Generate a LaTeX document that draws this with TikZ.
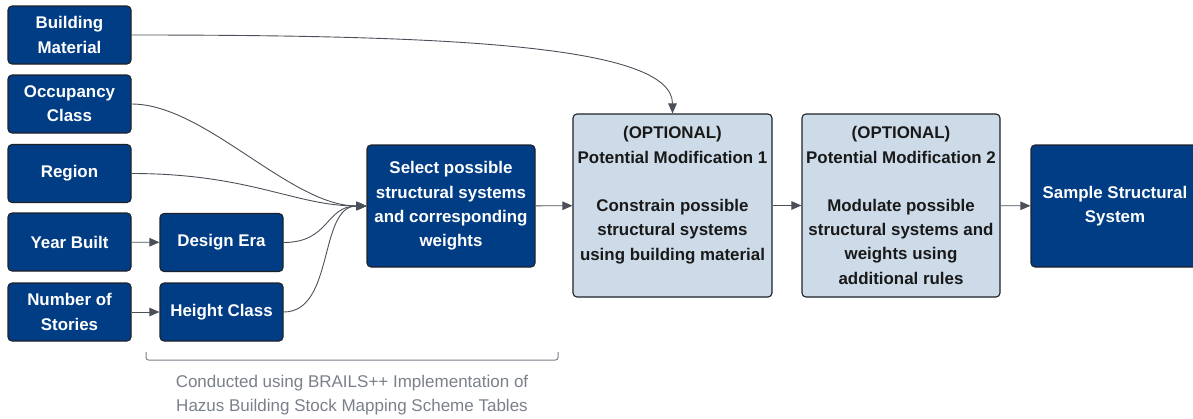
\documentclass[tikz,border=0pt]{standalone}
\usepackage{fontspec}
\setmainfont{Liberation Sans}
\usetikzlibrary{arrows.meta}
\definecolor{navy}{RGB}{1,61,133}
\definecolor{pale}{RGB}{205,219,232}
\definecolor{edgegray}{RGB}{75,80,88}
\definecolor{notegray}{RGB}{122,128,138}
\definecolor{boxline}{RGB}{30,34,40}
\begin{document}
\begin{tikzpicture}[x=1pt,y=-1pt,
  base/.style={draw=boxline, line width=1.1pt, rounded corners=4pt, align=center,
    font=\fontsize{16.9}{24.3}\selectfont\bfseries, inner sep=0pt},
  dark/.style={base, fill=navy, text=white},
  light/.style={base, fill=pale, text=black!90},
  small/.style={minimum width=123pt, minimum height=58pt},
  conn/.style={draw=edgegray, line width=0.9pt, -{Triangle[length=10pt,width=8.5pt]}},
]
\useasboundingbox (0,0) rectangle (1193,418);

\node[dark, small] (bm) at (69.5,35) {Building\\Material};
\node[dark, small] (oc) at (69.5,104) {Occupancy\\Class};
\node[dark, small] (rg) at (69.5,173.5) {Region};
\node[dark, small] (yb) at (69.5,242) {Year Built};
\node[dark, small] (ns) at (69.5,312) {Number of\\Stories};
\node[dark, small] (de) at (221.5,242.5) {Design Era};
\node[dark, small] (hc) at (221.5,312) {Height Class};
\node[dark, minimum width=168pt, minimum height=122pt] (sel) at (451,206)
  {Select possible\\structural systems\\and corresponding\\weights};
\node[light, minimum width=199pt, minimum height=183pt] (o1) at (672.5,205.5)
  {(OPTIONAL)\\Potential Modification 1\\[24pt]Constrain possible\\structural systems\\using building material\\\mbox{}};
\node[light, minimum width=198pt, minimum height=183pt] (o2) at (901,205.5)
  {(OPTIONAL)\\Potential Modification 2\\[24pt]Modulate possible\\structural systems and\\weights using\\additional rules};
\node[dark, minimum width=168pt, minimum height=122pt] (ss) at (1115,206)
  {Sample Structural\\System};

\draw[conn] (bm.east) .. controls (450,35) and (672.5,45) .. (o1.north);
\draw[conn] (oc.east) .. controls (205,104) and (290,206) .. (sel.west);
\draw[conn] (rg.east) .. controls (250,173.5) and (295,206) .. (sel.west);
\draw[conn] (de.east) .. controls (330,242.5) and (325,206) .. (sel.west);
\draw[conn] (hc.east) .. controls (335,312) and (318,206) .. (sel.west);
\draw[conn] (yb) -- (de);
\draw[conn] (ns) -- (hc);
\draw[conn] (sel) -- (o1);
\draw[conn] (o1) -- (o2);
\draw[conn] (o2) -- (ss);

\draw[notegray, line width=1pt, rounded corners=2.5pt] (146,352) -- (146,360) -- (558,360) -- (558,352);
\node[text=notegray, align=center, font=\fontsize{17}{24}\selectfont, inner sep=0pt] (note) at (352,395)
  {Conducted using BRAILS++ Implementation of\\Hazus Building Stock Mapping Scheme Tables};
\end{tikzpicture}
\end{document}
